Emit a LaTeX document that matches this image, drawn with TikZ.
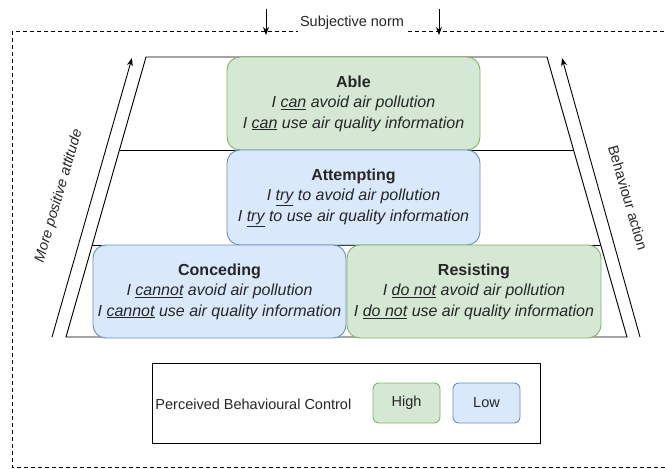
\documentclass[tikz,border=0pt]{standalone}
\usepackage{fontspec}
\setmainfont{Liberation Sans}
\usetikzlibrary{arrows.meta}
\definecolor{greenfill}{HTML}{D5E8D4}
\definecolor{greenline}{HTML}{82B366}
\definecolor{bluefill}{HTML}{DAE8FC}
\definecolor{blueline}{HTML}{6C8EBF}
\definecolor{txt}{HTML}{262626}
\begin{document}
\begin{tikzpicture}
    [x=1pt,y=-1pt,inner sep=0pt,line width=0.9pt,
     level/.style={rounded corners=13pt,align=center,text=txt,
       font=\fontsize{16}{20.5}\selectfont\itshape},
     high/.style={level,fill=greenfill,draw=greenline},
     low/.style={level,fill=bluefill,draw=blueline},
     key/.style={rounded corners=6pt,minimum width=67pt,minimum height=40pt,
       text=txt,font=\fontsize{14.5}{17}\selectfont},
     side/.style={text=txt,font=\fontsize{14.5}{17}\selectfont},
     tip/.style={-{Stealth[length=8pt,width=6pt]}}]
    \useasboundingbox (0,0) rectangle (665,469);
    % dashed frame with the norm label
    \draw [dash pattern=on 4pt off 3pt] (12,31) rectangle (665,467);
    \node (norm) at (352,23) [fill=white,inner sep=2pt,side] {Subjective norm};
    \coordinate (n1a) at (266,9);
    \coordinate (n1b) at (266,35);
    \coordinate (n2a) at (439,9);
    \coordinate (n2b) at (439,35);
    \draw [tip] (n1a) -- (n1b);
    \draw [tip] (n2a) -- (n2b);
    % pyramid
    \coordinate (tl) at (146,57);
    \coordinate (tr) at (547,57);
    \coordinate (br) at (627,337);
    \coordinate (bl) at (66,337);
    \coordinate (m1l) at (119.4,150);
    \coordinate (m1r) at (573.6,150);
    \coordinate (m2l) at (92.3,245);
    \coordinate (m2r) at (600.7,245);
    \draw (tl) -- (tr) -- (br) -- (bl) -- cycle;
    \draw (m1l) -- (m1r);
    \draw (m2l) -- (m2r);
    \node (able) at (353.5,103.5) [high,minimum width=253pt,minimum height=93pt]
      {{\upshape\bfseries Able}\\I \underline{can} avoid air pollution\\I \underline{can} use air quality information};
    \node (attempt) at (353.5,197.5) [low,minimum width=253pt,minimum height=95pt]
      {{\upshape\bfseries Attempting}\\I \underline{try} to avoid air pollution\\I \underline{try} to use air quality information};
    \node (concede) at (219.5,291.5) [low,minimum width=253pt,minimum height=93pt]
      {{\upshape\bfseries Conceding}\\I \underline{cannot} avoid air pollution\\I \underline{cannot} use air quality information};
    \node (resist) at (474,291.5) [high,minimum width=254pt,minimum height=93pt]
      {{\upshape\bfseries Resisting}\\I \underline{do not} avoid air pollution\\I \underline{do not} use air quality information};
    % side arrows
    \coordinate (la0) at (52,337);
    \coordinate (la1) at (132,58);
    \coordinate (ra0) at (640,337);
    \coordinate (ra1) at (562,58);
    \draw [tip] (la0) -- (la1);
    \draw [tip] (ra0) -- (ra1);
    \node (attitude) at (59,196) [side,rotate=73.8] {\itshape More positive attitude};
    \node (action) at (628,198) [side,rotate=-73.8] {Behaviour action};
    % legend
    \node (legend) at (346,403) [draw,minimum width=388pt,minimum height=80pt] {};
    \node (pbc) at (155,404) [anchor=west,side] {Perceived Behavioural Control};
    \node (highkey) at (406.5,403) [key,fill=greenfill,draw=greenline] {High};
    \node (lowkey) at (486.5,403) [key,fill=bluefill,draw=blueline] {Low};
\end{tikzpicture}
\end{document}
